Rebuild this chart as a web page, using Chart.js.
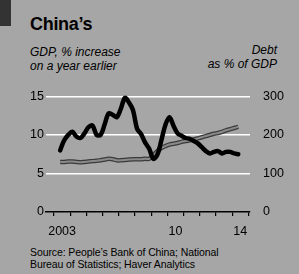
<!DOCTYPE html>
<html>
<head>
<meta charset="utf-8">
<script src="https://cdn.jsdelivr.net/npm/chart.js@4"></script>
<style>
  html, body { margin: 0; padding: 0; }
  body { width: 299px; height: 274px; background: #a6a6a6; position: relative; overflow: hidden;
         font-family: "Liberation Sans", Arial, sans-serif; color: #000; }
  .t { position: absolute; white-space: nowrap; line-height: 1; }
  #tag { position: absolute; left: 0; top: 0; width: 11px; height: 26px; background: #333; }
  #title { left: 30px; top: 15px; font-size: 18px; font-weight: bold; letter-spacing: -0.3px; }
  #sub { left: 30px; top: 45px; font-size: 12px; font-style: italic; line-height: 14px; }
  #sub2 { right: 22px; top: 43px; font-size: 12px; font-style: italic; line-height: 14px; text-align: right; }
  #source { left: 30px; top: 246px; font-size: 10.5px; line-height: 12px; letter-spacing: -0.1px; }
  #wrap { position: absolute; left: 0; top: 80px; width: 299px; height: 160px; }
</style>
</head>
<body>
<div id="tag"></div>
<div class="t" id="title">China’s</div>
<div class="t" id="sub">GDP, % increase<br>on a year earlier</div>
<div class="t" id="sub2">Debt<br>as % of GDP</div>
<div id="wrap"><canvas id="migrafica"></canvas></div>
<div class="t" id="source">Source: People’s Bank of China; National<br>Bureau of Statistics; Haver Analytics</div>
<script>
// quarterly data
const quarters = [
  "2003Q2","2003Q3","2003Q4",
  "2004Q1","2004Q2","2004Q3","2004Q4",
  "2005Q1","2005Q2","2005Q3","2005Q4",
  "2006Q1","2006Q2","2006Q3","2006Q4",
  "2007Q1","2007Q2","2007Q3","2007Q4",
  "2008Q1","2008Q2","2008Q3","2008Q4",
  "2009Q1","2009Q2","2009Q3","2009Q4",
  "2010Q1","2010Q2","2010Q3","2010Q4",
  "2011Q1","2011Q2","2011Q3","2011Q4",
  "2012Q1","2012Q2","2012Q3","2012Q4",
  "2013Q1","2013Q2","2013Q3","2013Q4",
  "2014Q1","2014Q2"
];
const gdpGrowth = [
  8.0, 9.3, 10.0,
  10.4, 9.8, 9.6, 10.2,
  11.0, 11.2, 10.0, 10.0,
  11.4, 12.8, 12.6, 12.3,
  13.4, 14.8, 14.2, 13.2,
  10.8, 10.1, 9.0, 8.2,
  6.9, 7.4, 9.3, 11.3,
  12.3, 11.2, 10.2, 9.9,
  9.6, 9.5, 9.2, 8.9,
  8.4, 7.9, 7.6, 7.8,
  7.9, 7.6, 7.8, 7.8,
  7.6, 7.5
];
const debtToGdp = [
  130, 130, 131,
  131, 130, 129, 130,
  131, 132, 133, 134,
  136, 138, 137, 134,
  134, 135, 136, 137,
  137, 137, 138, 138,
  147, 158, 166, 171,
  175, 177, 179, 182,
  184, 186, 188, 191,
  194, 197, 200, 203,
  205, 208, 212, 215,
  218, 221
];
const tickYears = [2003, 2004, 2005, 2006, 2007, 2008, 2009, 2010, 2011, 2012, 2013, 2014, 2015];
const yearLabels = { 2003: "2003", 2010: "10", 2014: "14" };
const gdpTicks = [0, 5, 10, 15];
const debtTicks = [0, 100, 200, 300];

function quarterPos(q) {
  return Number(q.slice(0, 4)) + (Number(q.slice(5)) - 1) / 4 + 0.125;
}
const gdpPoints = quarters.map((q, i) => ({ x: quarterPos(q), y: gdpGrowth[i] }));
const debtPoints = quarters.map((q, i) => ({ x: quarterPos(q), y: debtToGdp[i] }));

const font = { family: "'Liberation Sans', Arial, sans-serif", size: 12.5 };

new Chart(document.getElementById("migrafica").getContext("2d"), {
  type: "line",
  data: {
    datasets: [
      { label: "GDP", data: gdpPoints, yAxisID: "y", borderColor: "#000", borderWidth: 4.5,
        pointRadius: 0, tension: 0.35, order: 0, borderCapStyle: "round" },
      { label: "Debt", data: debtPoints, yAxisID: "y2", borderColor: "#8a8a8a", borderWidth: 2,
        pointRadius: 0, tension: 0.3, order: 1 },
      { label: "Debt edge", data: debtPoints, yAxisID: "y2", borderColor: "#3a3a3a", borderWidth: 4.5,
        pointRadius: 0, tension: 0.3, order: 2 }
    ]
  },
  options: {
    responsive: true,
    maintainAspectRatio: false,
    animation: false,
    layout: { padding: { top: 6, left: 0, right: 0, bottom: 0 } },
    plugins: { legend: { display: false }, tooltip: { enabled: false } },
    scales: {
      x: {
        type: "linear", min: 2002.5, max: 2015.1,
        afterBuildTicks(scale) { scale.ticks = tickYears.map(v => ({ value: v })); },
        afterFit(scale) { scale.height = 28; },
        ticks: {
          autoSkip: false, maxRotation: 0, padding: 8, labelOffset: 8,
          color: "#000", font: font,
          callback: v => yearLabels[v] || ""
        },
        grid: { display: true, drawOnChartArea: false, drawTicks: true, tickLength: 4,
                color: "#000", lineWidth: 1.2 },
        border: { display: true, color: "#000", width: 1.5 }
      },
      y: {
        position: "left", min: 0, max: 15.5,
        afterBuildTicks(scale) { scale.ticks = gdpTicks.map(v => ({ value: v })); },
        afterFit(scale) { scale.width = 46; },
        ticks: { padding: 2, color: "#000", font: font },
        grid: { color: ctx => ctx.tick && ctx.tick.value === 0 ? "rgba(0,0,0,0)" : "#fff",
                lineWidth: 1.5, drawTicks: false },
        border: { display: false }
      },
      y2: {
        position: "right", min: 0, max: 310,
        afterBuildTicks(scale) { scale.ticks = debtTicks.map(v => ({ value: v })); },
        afterFit(scale) { scale.width = 49; },
        ticks: { padding: 5, color: "#000", font: font },
        grid: { display: false },
        border: { display: false }
      }
    }
  }
});
</script>
</body>
</html>
